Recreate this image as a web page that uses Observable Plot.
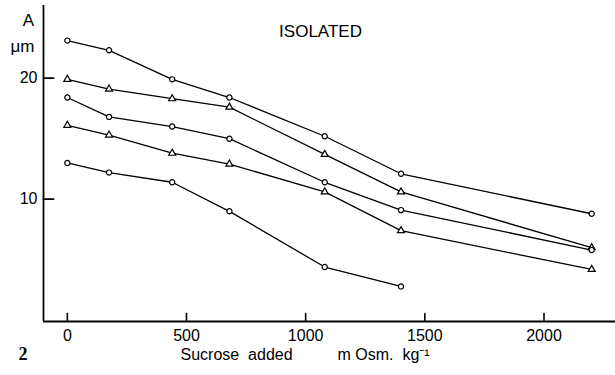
<!DOCTYPE html>
<html><head><meta charset="utf-8">
<script src="https://cdn.jsdelivr.net/npm/d3@7"></script>
<script src="https://cdn.jsdelivr.net/npm/@observablehq/plot@0.6"></script>
<style>body{margin:0;background:#fff}</style>
</head><body><div id="chart"></div>
<script>
const sucrose = [0, 175, 440, 680, 1080, 1400, 2200];
const seriesA = [23.1, 22.3, 19.9, 18.4, 15.2, 12.1, 8.8];
const seriesB = [19.9, 19.1, 18.3, 17.6, 13.7, 10.6, 6.0];
const seriesC = [18.4, 16.8, 16.0, 15.0, 11.4, 9.1, 5.8];
const seriesD = [16.1, 15.3, 13.8, 12.9, 10.6, 7.4, 4.2];
const seriesE = [13.0, 12.2, 11.4, 9.0, 4.4, 2.8];
const seriesNames = ["A", "B", "C", "D", "E"];
const seriesSymbols = ["circle", "triangle", "circle", "triangle", "circle"];
const xTicks = [0, 500, 1000, 1500, 2000];
const yTicks = [10, 20];
const xDomain = [-100, 2300];
const yDomain = [-0.1, 26];

const allSeries = [seriesA, seriesB, seriesC, seriesD, seriesE];
const data = allSeries.flatMap((vals, i) =>
  vals.map((v, j) => ({series: seriesNames[i], symbol: seriesSymbols[i], x: sucrose[j], y: v})));

const tickShape = {draw(context, l) { context.moveTo(0, 0); context.lineTo(0, -l); }};
const font = "'Liberation Sans', Arial, sans-serif";
const chart = Plot.plot({
  width: 615, height: 375,
  marginLeft: 43, marginRight: 0, marginTop: 5, marginBottom: 54,
  style: {fontFamily: font, fontSize: "16px", color: "#000", background: "#fff"},
  x: {domain: xDomain},
  y: {domain: yDomain},
  symbol: {domain: ["circle", "triangle"], range: ["circle", "triangle"]},
  marks: [
    Plot.ruleX([xDomain[0]], {y1: yDomain[0], y2: yDomain[1], stroke: "#000", strokeWidth: 1.8}),
    Plot.ruleY([yDomain[0]], {stroke: "#000", strokeWidth: 1.8}),
    Plot.vector(xTicks, {x: d => d, frameAnchor: "bottom", length: 8, rotate: 0, anchor: "start", shape: tickShape, stroke: "#000", strokeWidth: 1.6}),
    Plot.vector(yTicks, {y: d => d, frameAnchor: "left", length: 10, rotate: 90, anchor: "start", shape: tickShape, stroke: "#000", strokeWidth: 1.8}),
    Plot.axisX({ticks: xTicks, tickSize: 0, tickPadding: 8, tickFormat: d => String(d), label: null, fontSize: 16}),
    Plot.axisY({ticks: yTicks, tickSize: 0, tickPadding: 6, tickFormat: d => String(d), label: null, fontSize: 16}),
    Plot.line(data, {x: "x", y: "y", z: "series", stroke: "#000", strokeWidth: 1.3}),
    Plot.dot(data, {x: "x", y: "y", symbol: "symbol", r: 2.6, fill: "#fff", stroke: "#000", strokeWidth: 1.2}),
    Plot.text(["A"], {frameAnchor: "top-left", dx: -15, dy: 8, fontSize: 17, textAnchor: "middle"}),
    Plot.text(["μm"], {frameAnchor: "top-left", dx: -21, dy: 34, fontSize: 17, textAnchor: "middle"}),
    Plot.text(["ISOLATED"], {frameAnchor: "top", dx: -9, dy: 19, fontSize: 17, textAnchor: "middle"}),
    Plot.text(["2"], {frameAnchor: "bottom-left", dx: -25, dy: 38, fontSize: 18, fontWeight: "bold", fontFamily: "'Liberation Serif', serif"}),
    Plot.text(["Sucrose  added"], {frameAnchor: "bottom-left", dx: 137, dy: 38, fontSize: 16, textAnchor: "start"}),
    Plot.text(["m Osm.  kg⁻¹"], {frameAnchor: "bottom-left", dx: 294, dy: 38, fontSize: 16, textAnchor: "start"})
  ]
});
document.getElementById("chart").append(chart);
</script>
</body></html>
